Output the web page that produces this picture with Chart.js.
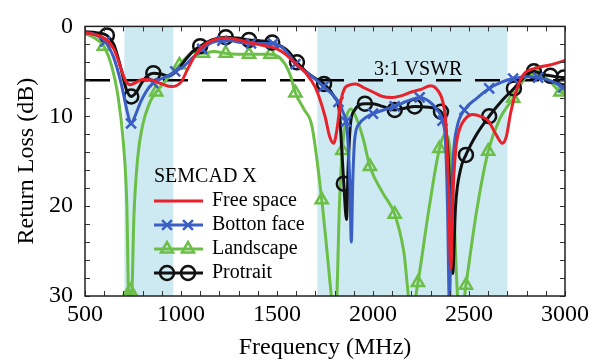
<!DOCTYPE html>
<html>
<head>
<meta charset="utf-8">
<script src="https://cdn.jsdelivr.net/npm/chart.js@4.4.1/dist/chart.umd.min.js"></script>
<style>
  html, body { margin: 0; padding: 0; background: #fff; }
  #wrap { width: 593px; height: 362px; }
</style>
</head>
<body>
<div id="wrap"><canvas id="canv" width="593" height="362"></canvas></div>
<script>
// frequency (MHz) / return loss (dB)
const freeFreq = [500,550,600,650,680,710,735,760,800,850,900,950,1000,1040,1080,1120,1170,1230,1300,1350,1400,1450,1500,1550,1600,1650,1700,1750,1775,1795,1812,1830,1850,1880,1910,1950,2000,2050,2100,2150,2200,2250,2300,2340,2365,2380,2392,2405,2418,2432,2450,2480,2520,2560,2600,2640,2674,2695,2717,2752,2786,2855,2920,3000];
const freeLoss = [0.7,0.9,1.3,2.5,4.2,6.0,6.5,6.3,5.9,6.0,6.4,6.7,6.2,4.5,3.0,2.1,1.5,1.3,1.5,1.8,2.0,2.2,2.5,3.2,4.2,5.2,6.8,10.0,12.3,13.0,11.5,8.6,7.0,6.5,6.4,6.8,7.3,7.8,7.9,7.7,7.3,7.0,6.6,7.2,8.5,11,17,27,18,13.5,11.5,10.3,9.8,10.0,10.5,12,13.0,12.2,9.6,6.8,5.3,4.6,4.3,3.8];
const freeMarks = [];

const bottomFreq = [500,550,605,650,690,720,740,760,790,820,855,900,940,970,1010,1060,1110,1160,1215,1260,1310,1365,1420,1480,1530,1570,1596,1640,1690,1742,1780,1820,1845,1860,1870,1880,1887,1895,1905,1930,1965,2000,2055,2113,2180,2243,2290,2330,2362,2378,2388,2398,2408,2420,2440,2476,2540,2605,2670,2730,2800,2860,2930,2990,3000];
const bottomLoss = [0.7,0.9,1.7,3.5,6.5,9.5,10.8,10.0,8.4,7.2,6.3,5.8,5.4,5.0,4.5,3.5,2.5,1.8,1.6,1.6,1.8,1.9,1.9,1.9,2.4,3.4,4.2,4.9,5.7,6.7,7.4,8.4,9.6,10.6,13,18,24,17,12.5,10.8,10.1,9.7,9.3,8.9,8.3,7.9,8.3,9.2,10.5,13,20,31,20,14,11,9.3,8.0,6.9,6.2,5.8,5.6,5.7,6.1,6.8,6.9];
const bottomMarks = [605,740,855,970,1110,1215,1365,1480,1596,1742,1820,1860,2000,2113,2243,2362,2476,2605,2730,2860,2990];

const landFreq = [500,550,598,640,670,700,718,728,735,742,755,775,800,835,871,910,950,992,1040,1080,1115,1170,1233,1290,1354,1410,1466,1510,1545,1572,1596,1640,1682,1733,1765,1785,1798,1811,1825,1840,1860,1885,1915,1949,1984,2050,2113,2160,2195,2210,2234,2290,2346,2375,2400,2420,2442,2462,2484,2540,2600,2660,2730,2790,2850,2910,2976,3000];
const landLoss = [0.8,1.3,2.2,4.5,7.5,13,20,30.5,29.4,30.5,21,14.5,11,8.6,7.3,6.3,5.3,4.3,3.2,2.7,3.0,2.8,3.0,3.1,3.1,3.1,3.1,3.4,4.3,5.6,7.4,9.2,11.1,19.3,26,30.5,33,30.5,20,13.8,10.3,9.2,10.3,12.5,15.6,18.5,20.9,25,31,31,28.5,20.5,13.6,12,13.5,20,30.5,32,28.8,20.5,13.9,10.3,8.0,5.8,5.2,5.9,7.3,7.5];
const landMarks = [598,735,871,992,1115,1233,1354,1466,1596,1733,1840,1984,2113,2234,2346,2484,2600,2730,2850,2976];

const portFreq = [500,560,614,650,685,715,741,765,795,825,856,895,935,975,1020,1060,1100,1160,1233,1290,1354,1410,1475,1520,1560,1604,1650,1700,1745,1800,1825,1838,1848,1862,1870,1882,1905,1958,2000,2050,2113,2165,2217,2290,2354,2380,2398,2415,2430,2455,2484,2540,2605,2670,2734,2790,2838,2880,2924,2960,2993,3000];
const portLoss = [0.6,0.7,1.0,2.0,4.5,7.0,7.8,7.4,6.3,5.5,5.2,5.3,5.5,5.0,3.8,2.8,2.2,1.5,1.2,1.3,1.5,1.6,1.8,2.2,2.8,4.0,5.0,5.8,6.4,7.9,9.5,14,17.5,21.5,16,11,9.3,8.6,8.6,8.9,9.3,9.1,8.9,9.0,9.5,11.5,17,27.5,20,16,14.3,12.0,10.0,8.3,6.9,5.6,5.0,5.3,5.5,5.6,5.7,5.7];
const portMarks = [614,741,856,1100,1233,1354,1475,1604,1745,1848,1958,2113,2217,2354,2484,2605,2734,2838,2924,2993];

const bands = [[705, 960], [1710, 2700]];
const vswrLevel = 6;

const serif = "'Liberation Serif', 'Times New Roman', serif";

function pts(f, v) { return f.map((x, i) => ({x: x, y: v[i]})); }

function series(label, f, v, marks, color, style, order) {
  return {
    label: label,
    data: pts(f, v),
    borderColor: color,
    borderWidth: 3,
    backgroundColor: 'transparent',
    pointStyle: style,
    pointRadius: ctx => (ctx.raw && marks.includes(ctx.raw.x)) ? 7 : 0,
    pointBorderColor: color,
    pointBackgroundColor: 'transparent',
    pointBorderWidth: 2.5,
    pointHoverRadius: 0,
    cubicInterpolationMode: 'monotone',
    order: order
  };
}

const datasets = [
  series('Free space', freeFreq, freeLoss, freeMarks, '#e8212b', 'line', 0),
  series('Botton face', bottomFreq, bottomLoss, bottomMarks, '#3b5ec4', 'crossRot', 1),
  series('Landscape', landFreq, landLoss, landMarks, '#6bbf47', 'triangle', 3),
  series('Protrait', portFreq, portLoss, portMarks, '#111111', 'circle', 2)
];

const frame = {
  id: 'frame',
  beforeDatasetsDraw(chart) {
    const {ctx, chartArea: a, scales: {x, y}} = chart;
    ctx.save();
    ctx.fillStyle = '#cde9f1';
    bands.forEach(b => {
      const x0 = x.getPixelForValue(b[0]), x1 = x.getPixelForValue(b[1]);
      ctx.fillRect(x0, a.top, x1 - x0, a.bottom - a.top);
    });
    const yv = y.getPixelForValue(vswrLevel);
    ctx.strokeStyle = '#000';
    ctx.lineWidth = 2.5;
    ctx.setLineDash([25, 14]);
    ctx.beginPath();
    ctx.moveTo(a.left, yv);
    ctx.lineTo(a.right, yv);
    ctx.stroke();
    ctx.setLineDash([]);
    ctx.fillStyle = '#000';
    ctx.font = '20px ' + serif;
    ctx.textAlign = 'center';
    ctx.textBaseline = 'alphabetic';
    ctx.fillText('3:1 VSWR', x.getPixelForValue(2235), yv - 5);
    ctx.restore();
  },
  afterDatasetsDraw(chart) {
    const {ctx, chartArea: a, scales: {x, y}} = chart;
    ctx.save();
    // inward ticks
    ctx.strokeStyle = '#333';
    ctx.lineWidth = 1;
    x.ticks.forEach((t, i) => {
      const px = Math.round(x.getPixelForTick(i)) + 0.5;
      ctx.beginPath();
      ctx.moveTo(px, a.bottom); ctx.lineTo(px, a.bottom - 5);
      ctx.moveTo(px, a.top); ctx.lineTo(px, a.top + 5);
      ctx.stroke();
    });
    y.ticks.forEach((t, i) => {
      const py = Math.round(y.getPixelForTick(i)) + 0.5;
      ctx.beginPath();
      ctx.moveTo(a.left, py); ctx.lineTo(a.left + 5, py);
      ctx.moveTo(a.right, py); ctx.lineTo(a.right - 5, py);
      ctx.stroke();
    });
    ctx.strokeStyle = '#222';
    ctx.lineWidth = 1.5;
    ctx.strokeRect(a.left, a.top, a.right - a.left, a.bottom - a.top);

    // legend
    const lx = 154, ly = 177, gap = 24;
    ctx.fillStyle = '#000';
    ctx.font = '20px ' + serif;
    ctx.textAlign = 'left';
    ctx.textBaseline = 'middle';
    ctx.fillText('SEMCAD X', lx, ly);
    chart.data.datasets.forEach((ds, i) => {
      const yy = ly + gap * (i + 1);
      ctx.strokeStyle = ds.borderColor;
      ctx.lineWidth = 3;
      ctx.beginPath();
      ctx.moveTo(lx, yy); ctx.lineTo(lx + 49, yy);
      ctx.stroke();
      if (ds.pointStyle !== 'line') {
        ctx.lineWidth = ds.pointBorderWidth;
        ctx.fillStyle = 'transparent';
        [lx + 13, lx + 34].forEach(px => {
          Chart.helpers.drawPoint(ctx, {pointStyle: ds.pointStyle, radius: 7, rotation: 0, borderWidth: ds.pointBorderWidth}, px, yy);
        });
      }
      ctx.fillStyle = '#000';
      ctx.fillText(ds.label, lx + 58, yy);
    });
    ctx.restore();
  }
};

new Chart(document.getElementById('canv').getContext('2d'), {
  type: 'line',
  data: {datasets: datasets},
  options: {
    responsive: false,
    animation: false,
    events: [],
    layout: {padding: {left: 0, top: 17, right: 25, bottom: 0}},
    plugins: {legend: {display: false}, tooltip: {enabled: false}},
    scales: {
      x: {
        type: 'linear',
        min: 500, max: 3000,
        afterFit: s => { s.height = 66; },
        grid: {display: false, drawTicks: false},
        border: {display: false},
        ticks: {
          stepSize: 100, autoSkip: false, maxRotation: 0, padding: 4,
          color: '#000', font: {family: serif, size: 24},
          callback: v => v % 500 === 0 ? v : ''
        },
        title: {display: true, text: 'Frequency (MHz)', color: '#000', font: {family: serif, size: 24}, padding: {top: 0, bottom: 0}}
      },
      y: {
        min: 0, max: 30, reverse: true,
        afterFit: s => { s.width = 85; },
        grid: {display: false, drawTicks: false},
        border: {display: false},
        ticks: {
          stepSize: 2, autoSkip: false, padding: 12,
          color: '#000', font: {family: serif, size: 24},
          callback: v => v % 10 === 0 ? v : ''
        },
        title: {display: true, text: 'Return Loss (dB)', color: '#000', font: {family: serif, size: 24}, padding: {top: 12, bottom: 0}}
      }
    }
  },
  plugins: [frame]
});
</script>
</body>
</html>
